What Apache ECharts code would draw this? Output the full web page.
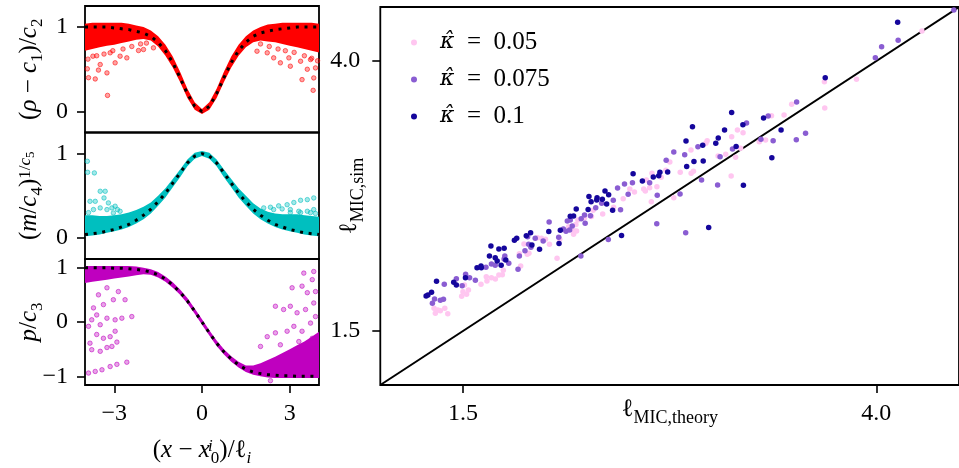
<!DOCTYPE html>
<html><head><meta charset="utf-8">
<script src="https://cdn.jsdelivr.net/npm/echarts@6/dist/echarts.min.js"></script>
<style>html,body{margin:0;padding:0;background:#fff}#c{width:959px;height:468px}</style>
</head><body><div id="c"></div><script>
// ---------- left column: profiles ----------
const profileX = [-4,-3.75,-3.5,-3.25,-3,-2.75,-2.5,-2.25,-2,-1.75,-1.5,-1.25,-1,-0.75,-0.5,-0.25,0,0.25,0.5,0.75,1,1.25,1.5,1.75,2,2.25,2.5,2.75,3,3.25,3.5,3.75,4];
const profileTicks = [-3, 0, 3];

const rhoTheory = [1.00,1.00,1.00,1.00,0.99,0.98,0.97,0.95,0.93,0.89,0.82,0.72,0.58,0.40,0.21,0.06,0.00,0.06,0.21,0.40,0.58,0.72,0.82,0.89,0.93,0.95,0.97,0.98,0.99,1.00,1.00,1.00,1.00];
const rhoBandHigh = [1.04,1.05,1.05,1.05,1.05,1.05,1.04,1.02,1.00,0.96,0.89,0.79,0.65,0.47,0.27,0.11,0.03,0.11,0.27,0.47,0.65,0.79,0.89,0.96,1.00,1.03,1.04,1.05,1.05,1.05,1.05,1.05,1.04];
const rhoBandLow = [0.72,0.74,0.76,0.78,0.79,0.81,0.83,0.85,0.86,0.84,0.77,0.66,0.52,0.35,0.16,0.02,-0.03,0.02,0.16,0.35,0.52,0.66,0.76,0.82,0.84,0.83,0.82,0.80,0.78,0.76,0.74,0.72,0.70];
const rhoScatter = [[-3.92,0.505],[-3.88,0.40],[-3.65,0.385],[-3.54,0.49],[-3.23,0.19],[-3.25,0.457],[-3.48,0.556],[-2.97,0.576],[-2.57,0.635],[-2.17,0.722],[-2.0,0.734],[-1.66,0.754],[-2.80,0.655],[-3.73,0.655],[-3.14,0.695],[3.80,0.25],[3.82,0.397],[3.88,0.516],[3.60,0.50],[3.02,0.536],[2.45,0.635],[2.97,0.635],[2.23,0.695],[1.88,0.714],[3.37,0.595],[3.42,0.377],[2.68,0.576],[3.71,0.615],[-3.9,0.62],[-3.6,0.66],[-3.35,0.68],[-3.05,0.72],[-2.7,0.74],[-2.4,0.77],[-2.1,0.80],[-1.9,0.81],[2.0,0.80],[2.3,0.77],[2.6,0.74],[2.85,0.72],[3.15,0.70],[3.5,0.66],[3.75,0.63],[3.95,0.60]];
const rhoTicks = [0, 1];

const massTheory = [0.04,0.05,0.06,0.08,0.10,0.13,0.16,0.21,0.27,0.34,0.43,0.53,0.65,0.77,0.89,0.97,1.00,0.97,0.89,0.77,0.65,0.53,0.43,0.34,0.27,0.21,0.16,0.13,0.10,0.08,0.06,0.05,0.04];
const massBandHigh = [0.27,0.27,0.26,0.26,0.27,0.28,0.30,0.33,0.37,0.42,0.50,0.59,0.70,0.81,0.93,1.01,1.03,1.01,0.93,0.81,0.70,0.59,0.50,0.41,0.35,0.31,0.29,0.28,0.28,0.28,0.27,0.26,0.25];
const massBandLow = [0.02,0.03,0.04,0.06,0.08,0.10,0.13,0.17,0.22,0.29,0.38,0.48,0.60,0.72,0.85,0.94,0.97,0.94,0.85,0.72,0.60,0.48,0.38,0.29,0.22,0.17,0.13,0.10,0.08,0.06,0.04,0.03,0.02];
const massScatter = [[-3.92,0.909],[-3.91,0.778],[-3.68,0.771],[-3.48,0.553],[-3.65,0.434],[-3.71,0.336],[-3.31,0.553],[-3.35,0.474],[-3.20,0.415],[-3.08,0.356],[-2.97,0.376],[-2.89,0.336],[-3.83,0.434],[-3.48,0.356],[-3.25,0.336],[-3.88,0.30],[-3.03,0.296],[-2.80,0.316],[3.82,0.474],[3.60,0.454],[3.37,0.446],[3.14,0.42],[2.91,0.394],[2.62,0.38],[2.34,0.364],[2.11,0.356],[3.82,0.336],[3.60,0.316],[3.31,0.316],[3.02,0.336],[2.74,0.344],[2.45,0.336],[3.37,0.30],[3.88,0.29],[3.71,0.30],[3.02,0.30]];
const massTicks = [0, 1];

const pTheory = [1.00,1.00,1.00,1.00,0.99,0.99,0.98,0.97,0.95,0.92,0.87,0.79,0.68,0.55,0.39,0.20,0.00,-0.20,-0.39,-0.55,-0.68,-0.79,-0.87,-0.92,-0.95,-0.97,-0.98,-0.99,-0.99,-1.00,-1.00,-1.00,-1.00];
const pBandHigh = [1.03,1.03,1.03,1.03,1.03,1.03,1.03,1.02,1.00,0.97,0.92,0.84,0.73,0.60,0.44,0.25,0.05,-0.15,-0.34,-0.50,-0.63,-0.73,-0.80,-0.80,-0.76,-0.70,-0.64,-0.57,-0.50,-0.43,-0.36,-0.27,-0.18];
const pBandLow = [0.72,0.74,0.76,0.78,0.80,0.82,0.84,0.86,0.88,0.87,0.82,0.74,0.63,0.50,0.34,0.15,-0.05,-0.25,-0.44,-0.60,-0.73,-0.84,-0.92,-0.97,-1.00,-1.02,-1.03,-1.03,-1.03,-1.03,-1.03,-1.03,-1.03];
const pScatter = [[-3.88,-0.94],[-3.65,-0.91],[-3.42,-0.88],[-3.14,-0.82],[-2.91,-0.78],[-2.57,-0.74],[-3.77,-0.51],[-3.48,-0.54],[-3.25,-0.47],[-3.08,-0.45],[-3.60,-0.23],[-3.37,-0.30],[-3.14,-0.27],[-2.97,-0.17],[-3.88,-0.08],[-3.77,0.04],[-3.48,-0.05],[-3.25,0.07],[-3.60,0.13],[-2.97,0.04],[-2.74,0.07],[-2.40,0.10],[-3.71,0.26],[-3.37,0.32],[-3.03,0.41],[-3.54,0.50],[-2.63,0.41],[-2.86,0.56],[-3.25,0.63],[-3.83,-0.39],[-2.91,-0.37],[3.48,0.90],[3.82,0.93],[3.77,0.78],[3.42,0.66],[3.08,0.63],[3.60,0.54],[3.88,0.56],[2.51,0.29],[2.79,0.23],[3.02,0.29],[3.25,0.17],[3.54,0.23],[3.82,0.35],[2.23,-0.27],[2.51,-0.20],[2.91,-0.17],[3.14,-0.08],[3.42,-0.17],[3.71,-0.02],[3.88,0.10],[2.0,-0.45],[2.68,-0.42],[3.31,-0.36],[3.77,-0.30],[2.34,-1.08]];
const pTicks = [-1, 0, 1];

// ---------- right panel: MIC length ----------
const micTicks = [1.5, 4.0];
const identityLine = [1.0, 4.5];
const kappa005 = [[1.325,1.711],[1.333,1.664],[1.348,1.694],[1.363,1.688],[1.390,1.710],[1.408,1.660],[1.492,1.821],[1.500,1.864],[1.522,1.840],[1.533,1.880],[1.509,1.926],[1.609,1.932],[1.645,1.963],[1.641,2.003],[1.672,1.994],[1.696,1.981],[1.717,2.019],[1.738,2.021],[1.744,2.062],[1.849,2.102],[1.841,2.216],[1.889,2.210],[1.899,2.219],[1.869,2.306],[1.951,2.364],[1.975,2.358],[1.999,2.349],[2.023,2.303],[2.069,2.174],[2.085,2.349],[2.139,2.466],[2.171,2.429],[2.187,2.426],[2.169,2.395],[2.183,2.486],[2.195,2.528],[2.235,2.546],[2.277,2.560],[2.287,2.618],[2.345,2.583],[2.411,2.645],[2.469,2.725],[2.509,2.815],[2.537,2.787],[2.593,2.815],[2.603,2.796],[2.609,2.898],[2.629,2.827],[2.639,2.697],[2.643,2.960],[2.673,2.836],[2.699,2.923],[2.727,2.988],[2.751,3.065],[2.775,2.734],[2.814,2.969],[2.879,3.176],[2.880,2.960],[2.894,2.979],[2.969,3.238],[2.977,3.262],[3.043,3.120],[3.089,3.136],[3.122,2.935],[3.125,3.299],[3.149,3.108],[3.160,3.361],[3.179,3.192],[3.194,3.336],[3.292,3.253],[3.330,3.269],[3.366,3.494],[3.442,3.500],[3.488,3.599],[3.686,3.808],[3.688,3.565],[3.880,3.831],[4.276,4.278]];
const kappa0075 = [[1.315,1.756],[1.328,1.796],[1.363,1.784],[1.382,1.794],[1.387,1.932],[1.460,1.984],[1.495,1.919],[1.516,2.025],[1.540,1.994],[1.575,1.969],[1.639,2.090],[1.672,2.120],[1.695,2.108],[1.749,2.167],[1.753,2.194],[1.777,2.127],[1.833,2.071],[1.841,2.194],[1.875,2.244],[1.891,2.373],[1.897,2.303],[1.911,2.275],[1.937,2.358],[1.985,2.333],[2.021,2.509],[2.079,2.368],[2.107,2.444],[2.123,2.423],[2.131,2.518],[2.149,2.528],[2.161,2.472],[2.145,2.435],[2.215,2.540],[2.235,2.574],[2.239,2.497],[2.271,2.568],[2.213,2.194],[2.303,2.642],[2.339,2.682],[2.379,2.347],[2.409,2.710],[2.435,2.824],[2.453,2.623],[2.477,2.861],[2.499,2.766],[2.525,2.873],[2.629,2.873],[2.672,2.494],[2.675,2.756],[2.729,3.081],[2.775,3.157],[2.813,2.769],[2.841,3.132],[2.847,2.410],[2.921,3.206],[2.943,2.898],[3.040,2.852],[3.055,3.113],[3.130,3.185],[3.215,3.426],[3.302,3.275],[3.346,3.491],[3.376,3.262],[3.516,3.271],[3.518,3.620],[3.572,3.331],[3.994,4.031],[4.032,4.132],[4.132,4.192],[4.469,4.472]];
const kappa01 = [[1.277,1.824],[1.288,1.833],[1.310,1.858],[1.340,1.960],[1.444,1.951],[1.460,1.926],[1.515,1.994],[1.585,2.086],[1.609,2.102],[1.611,2.086],[1.660,2.194],[1.669,2.287],[1.695,2.179],[1.707,2.148],[1.717,2.259],[1.731,2.108],[1.749,2.266],[1.759,2.157],[1.811,2.340],[1.825,2.358],[1.883,2.382],[1.909,2.410],[1.917,2.296],[1.963,2.256],[2.019,2.421],[2.081,2.310],[2.089,2.432],[2.149,2.562],[2.169,2.565],[2.185,2.630],[2.257,2.625],[2.262,2.745],[2.275,2.697],[2.311,2.734],[2.309,2.713],[2.343,2.719],[2.359,2.796],[2.381,2.762],[2.369,2.676],[2.405,2.618],[2.459,2.384],[2.529,2.956],[2.585,2.889],[2.651,2.926],[2.684,2.938],[2.691,2.969],[2.738,2.972],[2.853,3.023],[2.897,3.069],[2.953,3.074],[2.986,2.458],[2.849,3.259],[2.888,3.391],[2.950,3.219],[3.029,3.238],[3.044,3.287],[3.082,3.361],[3.125,3.523],[3.152,3.208],[3.193,3.410],[3.196,2.849],[3.318,3.472],[3.368,3.105],[3.424,3.361],[3.691,3.845],[4.129,4.358]];
const kappaNames = ['0.05', '0.075', '0.1'];

// ---------- styling ----------
const F = "'Liberation Serif','DejaVu Serif',serif";
const FS = 24;
const NS = 25;
function richSet(subSize) {
  const b = {fontFamily: F, color: '#000', verticalAlign: 'top'};
  return {
    n:   Object.assign({}, b, {fontSize: NS, lineHeight: 27}),
    i:   Object.assign({}, b, {fontSize: NS, lineHeight: 27, fontStyle: 'italic'}),
    sb:  Object.assign({}, b, {fontSize: subSize, lineHeight: subSize, padding: [12, 0, 0, 0]}),
    sbi: Object.assign({}, b, {fontSize: subSize, lineHeight: subSize, padding: [12, 0, 0, 0], fontStyle: 'italic'}),
    sp:  Object.assign({}, b, {fontSize: subSize, lineHeight: subSize, padding: [0, 0, 0, 0]}),
    spi: Object.assign({}, b, {fontSize: subSize, lineHeight: subSize, padding: [0, 0, 0, 0], fontStyle: 'italic'}),
    sps: Object.assign({}, b, {fontSize: 13, lineHeight: 13, padding: [7, 0, 0, 0]}),
    spz: Object.assign({}, b, {fontSize: subSize, lineHeight: subSize, padding: [0, 0, 0, 0], fontStyle: 'italic', width: 1})
  };
}
const richL = richSet(17);
const richR = richSet(18);
const minus = v => String(v).replace('-', '\u2212');

const profilePanels = [
  {theory: rhoTheory, lo: rhoBandLow, hi: rhoBandHigh, pts: rhoScatter, ticks: rhoTicks, min: -0.25, max: 1.25,
   color: '#ff0000', soft: 'rgba(255,0,0,0.45)', top: 6,
   name: '{n|(}{i|\u03C1}{n| \u2212 }{i|c}{sb|1}{n|)/}{i|c}{sb|2}'},
  {theory: massTheory, lo: massBandLow, hi: massBandHigh, pts: massScatter, ticks: massTicks, min: -0.25, max: 1.25,
   color: '#00bfbf', soft: 'rgba(0,191,191,0.45)', top: 132.5,
   name: '{n|(}{i|m}{n|/}{i|c}{sb|4}{n|)}{sp|1/}{spi|c}{sps|5}'},
  {theory: pTheory, lo: pBandLow, hi: pBandHigh, pts: pScatter, ticks: pTicks, min: -1.16, max: 1.16,
   color: '#bf00bf', soft: 'rgba(191,0,191,0.45)', top: 259,
   name: '{i|p}{n|/}{i|c}{sb|3}'}
];

const grid = [], xAxis = [], yAxis = [], series = [];
const border = {show: true, borderColor: '#000', borderWidth: 1.8, backgroundColor: 'transparent'};
const hiddenLine = {show: false, onZero: false};
profilePanels.forEach((p, k) => {
  grid.push(Object.assign({left: 85, top: p.top, width: 234, height: 126.5}, border));
  const last = k === 2;
  xAxis.push({
    gridIndex: k, type: 'value', min: -4, max: 4, position: 'bottom',
    axisLine: hiddenLine, splitLine: {show: false},
    axisTick: {show: last, customValues: profileTicks, length: 8, lineStyle: {color: '#000', width: 1.6}},
    axisLabel: {show: last, customValues: profileTicks, formatter: minus, margin: 17,
      fontFamily: F, fontSize: FS, color: '#000'},
    name: last ? '{n|(}{i|x}{n| \u2212 }{i|x}{spz|i}{sb|0}{n|)/}{n|\u2113}{sbi|i}' : '',
    nameLocation: 'middle', nameGap: 53, nameMoveOverlap: false, nameTextStyle: {rich: richL}
  });
  yAxis.push({
    gridIndex: k, type: 'value', min: p.min, max: p.max, position: 'left',
    axisLine: hiddenLine, splitLine: {show: false},
    axisTick: {show: true, customValues: p.ticks, length: 8, lineStyle: {color: '#000', width: 1.6}},
    axisLabel: {customValues: p.ticks, formatter: minus, margin: 17, fontFamily: F, fontSize: FS, color: '#000'},
    name: p.name, nameLocation: 'middle', nameRotate: 90, nameGap: 41, nameMoveOverlap: false,
    nameTextStyle: {rich: richL}
  });
  const lo = p.lo, hi = p.hi, col = p.color;
  series.push({
    type: 'custom', xAxisIndex: k, yAxisIndex: k, data: [[0, 0]], clip: false, silent: true, z: 1,
    renderItem: (params, api) => {
      const pts = [];
      for (let i = 0; i < profileX.length; i++) pts.push(api.coord([profileX[i], hi[i]]));
      for (let i = profileX.length - 1; i >= 0; i--) pts.push(api.coord([profileX[i], lo[i]]));
      return {type: 'polygon', shape: {points: pts}, style: {fill: col}};
    }
  });
  series.push({
    type: 'scatter', xAxisIndex: k, yAxisIndex: k, data: p.pts, symbolSize: 4.5, z: 2, silent: true,
    itemStyle: {color: p.soft, borderColor: col, borderWidth: 0.7}
  });
  series.push({
    type: 'line', xAxisIndex: k, yAxisIndex: k, data: profileX.map((x, i) => [x, p.theory[i]]),
    symbol: 'none', z: 3, silent: true,
    lineStyle: {color: '#000', width: 3, type: [3, 5.7], cap: 'butt'}
  });
});

// right panel
grid.push(Object.assign({left: 380.3, top: 7, width: 583, height: 378}, border));
xAxis.push({
  gridIndex: 3, type: 'value', min: 1.0, max: 4.5, position: 'bottom',
  axisLine: hiddenLine, splitLine: {show: false},
  axisTick: {customValues: micTicks, length: 8, lineStyle: {color: '#000', width: 1.6}},
  axisLabel: {customValues: micTicks, formatter: v => v.toFixed(1), margin: 17, fontFamily: F, fontSize: FS, color: '#000'},
  name: '{n|\u2113}{sb|MIC,theory}', nameLocation: 'middle', nameGap: 12, nameMoveOverlap: false,
  nameTextStyle: {rich: richR}
});
yAxis.push({
  gridIndex: 3, type: 'value', min: 1.0, max: 4.5, position: 'left',
  axisLine: hiddenLine, splitLine: {show: false},
  axisTick: {customValues: micTicks, length: 8, lineStyle: {color: '#000', width: 1.6}},
  axisLabel: {customValues: micTicks, formatter: v => v.toFixed(1), margin: 20, fontFamily: F, fontSize: FS, color: '#000'},
  name: '{n|\u2113}{sb|MIC,sim}', nameLocation: 'middle', nameRotate: 90, nameGap: 16, nameMoveOverlap: false,
  nameTextStyle: {rich: richR}
});
series.push({
  type: 'line', xAxisIndex: 3, yAxisIndex: 3, data: identityLine.map(v => [v, v]),
  symbol: 'none', z: 1, silent: true, lineStyle: {color: '#000', width: 2}
});
const kColors = ['#ffc6f0', '#8a5dd2', '#15069c'];
[kappa005, kappa0075, kappa01].forEach((d, j) => {
  series.push({
    name: kappaNames[j], type: 'scatter', xAxisIndex: 3, yAxisIndex: 3, data: d,
    symbolSize: 5.5, z: 2 + j, itemStyle: {color: kColors[j], opacity: 1}
  });
});

const chart = echarts.init(document.getElementById('c'), null, {renderer: 'canvas'});
chart.setOption({
  animation: false,
  backgroundColor: '#fff',
  grid, xAxis, yAxis, series,
  legend: {
    data: kappaNames, orient: 'vertical', left: 406, top: 25, itemWidth: 42, itemHeight: 6,
    itemGap: 12, icon: 'circle', selectedMode: false,
    formatter: n => '{i|\u03BA\u0302}{n|\u2002=\u2002' + n + '}',
    textStyle: {rich: {
      i: {fontFamily: "'DejaVu Serif',serif", fontSize: 22, fontStyle: 'italic', lineHeight: 24, color: '#000'},
      n: {fontFamily: F, fontSize: NS, lineHeight: 24, color: '#000'}
    }}
  }
});
</script></body></html>
